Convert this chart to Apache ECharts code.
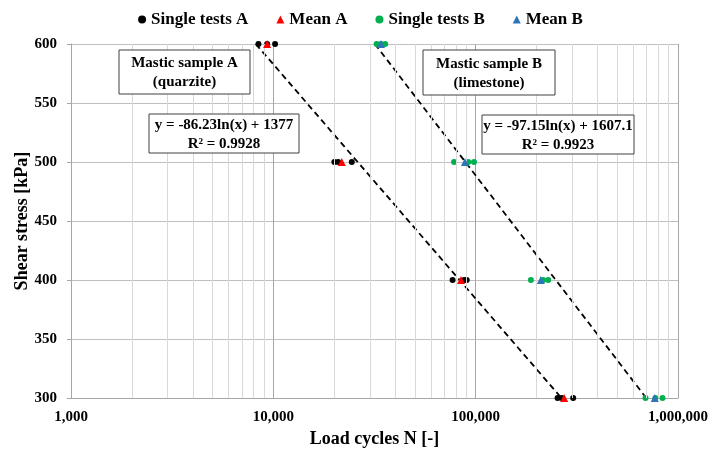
<!DOCTYPE html>
<html>
<head>
<meta charset="utf-8">
<script src="https://cdn.jsdelivr.net/npm/echarts@6/dist/echarts.min.js"></script>
<style>
  html, body { margin: 0; padding: 0; background: #fff; }
  #divChart { width: 721px; height: 453px; }
</style>
</head>
<body>
<div id="divChart"></div>
<script>
// stress levels [kPa] and load cycles
var arrStress = [600, 500, 400, 300];
var arrSingleA = [
    [8440, 9320, 10200],
    [20030, 20900, 24420],
    [76900, 87800, 90300],
    [254000, 265900, 303400]
];
var arrMeanA = [9320, 21780, 84600, 273800];
var arrSingleB = [
    [32400, 34000, 35700],
    [78200, 91900, 98100],
    [187500, 215700, 228300],
    [691000, 772700, 838500]
];
var arrMeanB = [34040, 88500, 210100, 767400];
// fitted trendlines y = a*ln(x) + b, as printed on the chart
var arrTrendA = [-86.23, 1377];
var arrTrendB = [-97.15, 1607.1];

var strFont = 'Liberation Serif';

function PairUp(arrN) {
    var arrOut = [];
    for (var intI = 0; intI < arrStress.length; intI++) {
        var arrRow = Array.isArray(arrN[intI]) ? arrN[intI] : [arrN[intI]];
        for (var intJ = 0; intJ < arrRow.length; intJ++) {
            arrOut.push([arrRow[intJ], arrStress[intI]]);
        };
    };
    return arrOut;
};

function TrendEnds(arrCoef) {
    // x where the fit hits the top and bottom stress levels
    var yTop = arrStress[0], yBot = arrStress[arrStress.length - 1];
    return [
        [Math.exp((yTop - arrCoef[1]) / arrCoef[0]), yTop],
        [Math.exp((yBot - arrCoef[1]) / arrCoef[0]), yBot]
    ];
};

// minor vertical grid (2..9 in each decade)
var arrMinor = [];
for (var intD = 1000; intD < 1000000; intD *= 10) {
    for (var intK = 2; intK <= 9; intK++) {
        arrMinor.push({ xAxis: intD * intK });
    };
};

function MakeBox(x, y, w, h, strText) {
    return {
        type: 'group',
        children: [{
            type: 'rect',
            shape: { x: x, y: y, width: w, height: h },
            style: { fill: '#fff', stroke: '#404040', lineWidth: 1 },
            z: 100
        }, {
            type: 'text',
            x: x + w / 2,
            y: y + h / 2 + 1,
            style: {
                text: strText,
                font: 'bold 15px "' + strFont + '"',
                fill: '#000',
                align: 'center',
                verticalAlign: 'middle',
                lineHeight: 19
            },
            z: 101
        }]
    };
};

var chartMain = echarts.init(document.getElementById('divChart'));
var optMain = {
    animation: false,
    backgroundColor: '#fff',
    textStyle: { fontFamily: strFont },
    legend: {
        top: 6,
        left: 'center',
        itemWidth: 8,
        itemHeight: 8,
        itemGap: 28,
        textStyle: { fontFamily: strFont, fontWeight: 'bold', fontSize: 17, color: '#000' },
        data: [
            { name: 'Single tests A', icon: 'circle' },
            { name: 'Mean A', icon: 'triangle' },
            { name: 'Single tests B', icon: 'circle' },
            { name: 'Mean B', icon: 'triangle' }
        ]
    },
    grid: { left: 71, right: 43, top: 44, bottom: 49 },
    xAxis: {
        type: 'log',
        logBase: 10,
        min: 1000,
        max: 1000000,
        name: 'Load cycles N [-]',
        nameLocation: 'middle',
        nameGap: 28,
        nameTextStyle: { fontFamily: strFont, fontWeight: 'bold', fontSize: 18, color: '#000' },
        axisLine: { show: true, lineStyle: { color: '#a6a6a6' } },
        axisTick: { show: false },
        axisLabel: {
            margin: 12,
            fontFamily: strFont, fontWeight: 'bold', fontSize: 15, color: '#000',
            formatter: function(v) { return Math.round(v).toLocaleString('en-US'); }
        },
        splitLine: { show: true, lineStyle: { color: '#a6a6a6', width: 1 } }
    },
    yAxis: {
        type: 'value',
        min: 300,
        max: 600,
        interval: 50,
        name: 'Shear stress [kPa]',
        nameLocation: 'middle',
        nameGap: 40,
        nameMoveOverlap: false,
        nameTextStyle: { fontFamily: strFont, fontWeight: 'bold', fontSize: 18, color: '#000' },
        axisLine: { show: true, lineStyle: { color: '#a6a6a6' } },
        axisTick: { show: true, length: 4, lineStyle: { color: '#a6a6a6' } },
        axisLabel: { margin: 14, fontFamily: strFont, fontWeight: 'bold', fontSize: 15, color: '#000' },
        splitLine: { show: true, lineStyle: { color: '#bfbfbf', width: 1 } }
    },
    graphic: [
        MakeBox(119, 50, 131, 44, 'Mastic sample A\n(quarzite)'),
        MakeBox(149, 114, 150, 39, 'y = -86.23ln(x) + 1377\nR² = 0.9928'),
        MakeBox(423, 50, 132, 45, 'Mastic sample B\n(limestone)'),
        MakeBox(482, 115, 152, 39, 'y = -97.15ln(x) + 1607.1\nR² = 0.9923')
    ],
    series: [{
        name: 'minor grid',
        type: 'line',
        data: [],
        silent: true,
        markLine: {
            silent: true,
            symbol: ['none', 'none'],
            label: { show: false },
            lineStyle: { color: '#d9d9d9', type: 'solid', width: 1 },
            data: arrMinor
        },
        z: 1
    }, {
        name: 'Trend A',
        type: 'line',
        data: TrendEnds(arrTrendA),
        symbol: 'none',
        clip: true,
        lineStyle: { color: '#000', width: 1.8, type: [6, 4] },
        z: 3
    }, {
        name: 'Trend B',
        type: 'line',
        data: TrendEnds(arrTrendB),
        symbol: 'none',
        clip: true,
        lineStyle: { color: '#000', width: 1.8, type: [6, 4] },
        z: 3
    }, {
        name: 'Single tests A',
        type: 'scatter',
        data: PairUp(arrSingleA),
        symbol: 'circle',
        symbolSize: 6,
        itemStyle: { color: '#000', opacity: 1 },
        z: 4
    }, {
        name: 'Mean A',
        type: 'scatter',
        data: PairUp(arrMeanA),
        symbol: 'triangle',
        symbolSize: 8,
        itemStyle: { color: '#ff0000', opacity: 1 },
        z: 5
    }, {
        name: 'Single tests B',
        type: 'scatter',
        data: PairUp(arrSingleB),
        symbol: 'circle',
        symbolSize: 6,
        itemStyle: { color: '#00b050', opacity: 1 },
        z: 4
    }, {
        name: 'Mean B',
        type: 'scatter',
        data: PairUp(arrMeanB),
        symbol: 'triangle',
        symbolSize: 8,
        itemStyle: { color: '#2e75b6', opacity: 1 },
        z: 5
    }]
};
chartMain.setOption(optMain);
</script>
</body>
</html>
